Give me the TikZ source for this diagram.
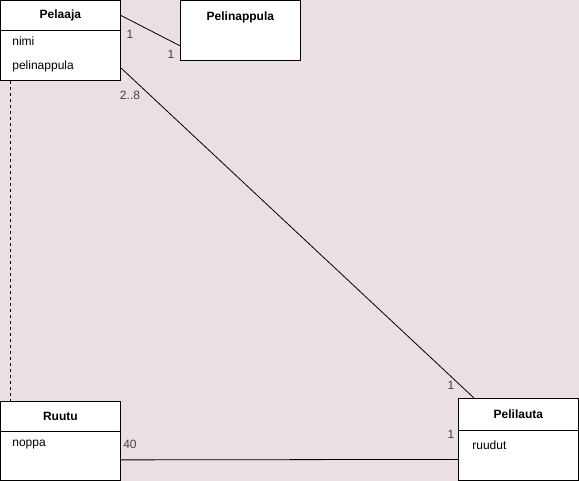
\documentclass[tikz,border=0pt]{standalone}
\usepackage{fontspec}
\setmainfont{Liberation Sans}
\definecolor{bgpink}{RGB}{234,224,225}
\begin{document}
\begin{tikzpicture}[x=1pt,y=-1pt,line width=0.8pt]

\tikzset{head/.style={draw,fill=white,minimum width=120pt,inner sep=0pt,anchor=north west,font=\fontsize{12}{14}\selectfont\bfseries},
body/.style={draw,fill=white,minimum width=120pt,minimum height=50pt,inner sep=0pt,anchor=north west},
attr/.style={anchor=west,inner sep=0pt,font=\fontsize{12}{14}\selectfont},
mult/.style={inner sep=0pt,text=black!75,font=\fontsize{12}{14}\selectfont}}

\fill [bgpink] (0,0) rectangle (579,481);
\useasboundingbox (0,0) rectangle (579,481);

% Pelaaja
\node [head,minimum height=30pt] (pelaajaH) at (0,0) {Pelaaja};
\node [body] (pelaajaB) at (0,30) {};
\node [attr] (nimi) at (12,41) {nimi};
\node [attr] (pelinappulaA) at (12,66) {pelinappula};

% Pelinappula
\node [head,minimum height=60pt,text height=10pt,text depth=30pt] (pelinappula) at (180,0) {Pelinappula};

% Ruutu
\node [head,minimum height=30pt] (ruutuH) at (0,401) {Ruutu};
\node [body,minimum height=49pt] (ruutuB) at (0,431) {};
\node [attr] (noppa) at (12,445) {noppa};

% Pelilauta
\node [head,minimum height=32pt] (pelilautaH) at (458,398) {Pelilauta};
\node [body,minimum height=50pt] (pelilautaB) at (458,430) {};
\node [attr] (ruudut) at (472,445) {ruudut};

\draw (pelaajaH.east) -- ([yshift=15pt]pelinappula.south west);
\draw ([yshift=13pt]pelaajaB.south east) -- ([xshift=16pt]pelilautaH.north west);
\draw ([yshift=-4pt]ruutuB.east) -- ([yshift=-4pt]pelilautaB.west);
\draw [dashed,line width=0.6pt] ([xshift=10pt]pelaajaB.south west) -- ([xshift=10pt]ruutuH.north west);

\node [mult] (m1) at (130,34) {1};
\node [mult] (m2) at (171,54) {1};
\node [mult] (m3) at (130,95) {2..8};
\node [mult] (m4) at (451,385) {1};
\node [mult] (m5) at (451,434) {1};
\node [mult] (m6) at (130,444) {40};

\end{tikzpicture}
\end{document}
